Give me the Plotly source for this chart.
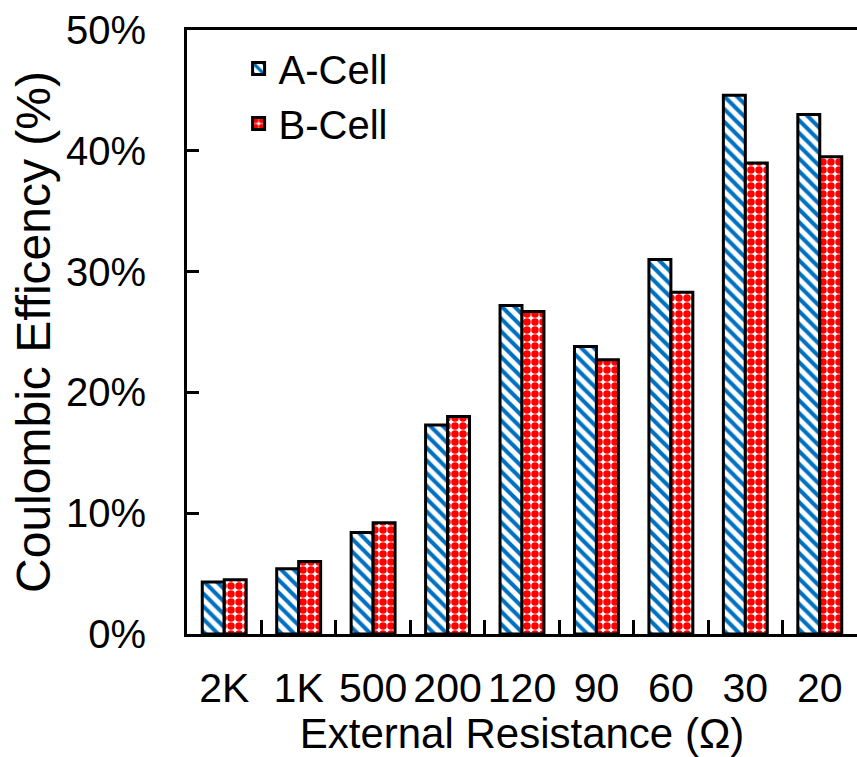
import plotly.graph_objects as go

# External resistance settings (ohms) and coulombic efficiency (%) per cell
resistances = ["2K", "1K", "500", "200", "120", "90", "60", "30", "20"]
a_cell = [4.3, 5.4, 8.4, 17.3, 27.2, 23.8, 31.0, 44.6, 43.0]
b_cell = [4.5, 6.0, 9.2, 18.0, 26.7, 22.7, 28.3, 39.0, 39.5]
y_ticks = [0, 10, 20, 30, 40, 50]
y_tick_text = [f"{v}%" for v in y_ticks]

FONT = "Liberation Sans, Arial, sans-serif"

fig = go.Figure()
fig.add_trace(go.Bar(
    name="A-Cell", x=resistances, y=a_cell,
    marker=dict(
        color="white",
        line=dict(color="black", width=3),
        pattern=dict(shape="\\", fgcolor="#0070C0", bgcolor="white",
                     fgopacity=1, size=9, solidity=0.45, fillmode="replace"),
    ),
))
fig.add_trace(go.Bar(
    name="B-Cell", x=resistances, y=b_cell,
    marker=dict(
        color="white",
        line=dict(color="black", width=3),
        pattern=dict(shape=".", fgcolor="#FF0000", bgcolor="white",
                     fgopacity=1, size=8, solidity=0.7, fillmode="replace"),
    ),
))

fig.update_layout(
    width=857, height=757,
    margin=dict(l=187, r=0, t=30, b=123),
    plot_bgcolor="white", paper_bgcolor="white",
    barmode="group", bargap=0.41, bargroupgap=0,
    font=dict(family=FONT, size=40, color="black"),
    showlegend=True,
    legend=dict(x=0.077, y=0.99, xanchor="left", yanchor="top",
                bgcolor="rgba(0,0,0,0)", font=dict(size=40),
                itemwidth=30, tracegroupgap=0),
)
fig.update_xaxes(
    type="category", range=[-0.5, 8.5],
    showline=True, linecolor="black", linewidth=3, mirror=True,
    ticks="inside", tickson="boundaries", ticklen=14, tickwidth=3,
    tickcolor="black", ticklabelstandoff=16, tickangle=0,
    tickfont=dict(size=41),
    title=dict(text="External Resistance (Ω)", font=dict(size=42), standoff=2),
    showgrid=False, zeroline=False,
)
fig.update_yaxes(
    range=[0, 50], tickmode="array", tickvals=y_ticks, ticktext=y_tick_text,
    showline=True, linecolor="black", linewidth=3,
    ticks="inside", ticklen=12, tickwidth=3, tickcolor="black",
    ticklabelstandoff=30, tickfont=dict(size=40),
    title=dict(text="Coulombic Efficency (%)", font=dict(size=48), standoff=1),
    showgrid=False, zeroline=False,
)

fig.write_html("out.html")
